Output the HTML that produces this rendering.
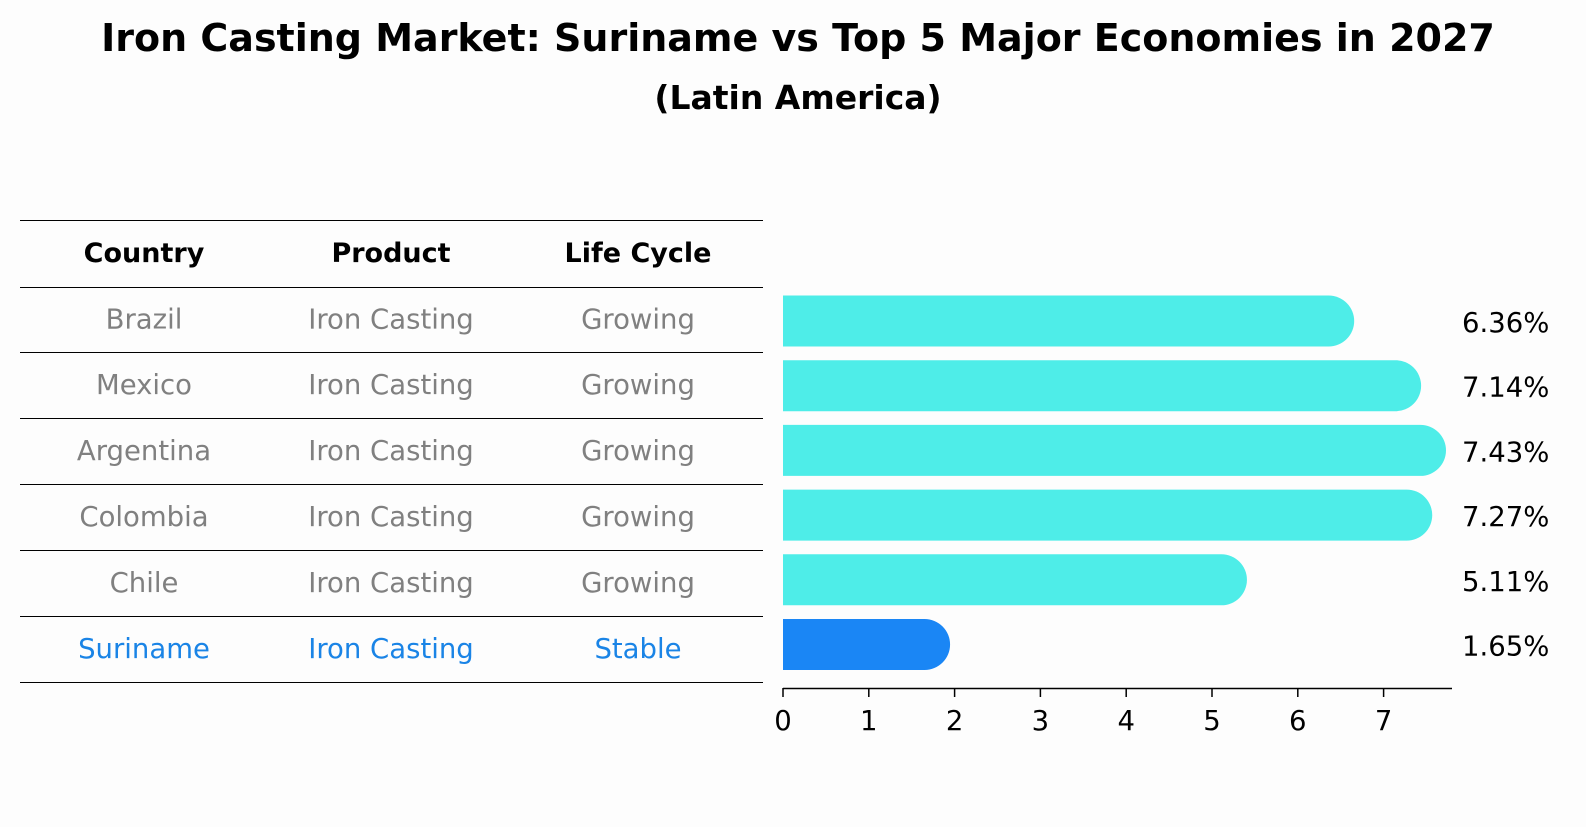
<!DOCTYPE html>
<html><head><meta charset="utf-8"><style>
body{margin:0;background:#fdfdfd;font-family:"DejaVu Sans","Liberation Sans",sans-serif;}
svg text{font-family:"DejaVu Sans","Liberation Sans",sans-serif;}
</style></head><body>
<svg width="1586" height="823" xmlns="http://www.w3.org/2000/svg">
<rect width="1586" height="823" fill="#fdfdfd"/>
<text x="798" y="51" text-anchor="middle" font-size="38" font-weight="bold">Iron Casting Market: Suriname vs Top 5 Major Economies in 2027</text>
<text x="798" y="109" text-anchor="middle" font-size="33" font-weight="bold">(Latin America)</text>
<g id="table"></g>
<g id="bars"></g>
</svg>
<script>
const countries=["Brazil","Mexico","Argentina","Colombia","Chile","Suriname"];
const products=["Iron Casting","Iron Casting","Iron Casting","Iron Casting","Iron Casting","Iron Casting"];
const lifeCycles=["Growing","Growing","Growing","Growing","Growing","Stable"];
const values=[6.36,7.14,7.43,7.27,5.11,1.65];
const ticks=[0,1,2,3,4,5,6,7];
const NS="http://www.w3.org/2000/svg";
function mk(t,a,p){const e=document.createElementNS(NS,t);for(const k in a)e.setAttribute(k,a[k]);p.appendChild(e);return e;}
const tb=document.getElementById('table'),bg=document.getElementById('bars');
const lineYs=[220,287,352,418,484,550,616,682];
const colX=[144,391,638];
lineYs.forEach(y=>{const l=mk('line',{x1:20,x2:763,y1:y+0.5,y2:y+0.5,stroke:'#000','stroke-width':1},tb);

});
["Country","Product","Life Cycle"].forEach((h,i)=>{const t=mk('text',{x:colX[i],y:262,'text-anchor':'middle','font-size':27,'font-weight':'bold'},tb);t.textContent=h;

});
const xs=v=>783+v*85.8;
const rowY=i=>321+i*64.7;
countries.forEach((c,i)=>{
 const col=i===5?'#1a84e6':'#808080';
 [c,products[i],lifeCycles[i]].forEach((s,j)=>{const t=mk('text',{x:colX[j],y:(lineYs[i+1]+lineYs[i+2])/2+9,'text-anchor':'middle','font-size':27.5,fill:col},tb);t.textContent=s;
 
 });
 const cy=rowY(i),h=51,r=25.5,x0=xs(0),x1=xs(values[i]);
 const p=mk('path',{d:`M${x0},${cy-h/2}H${x1}A${r},${r} 0 0 1 ${x1},${cy+h/2}H${x0}Z`,fill:i===5?'#1a86f5':'#4eede8'},bg);
 
 
 const t=mk('text',{x:1462,y:cy+11,'font-size':27.5},bg);t.textContent=values[i].toFixed(2)+'%';
 
 
});
const ax=mk('line',{x1:783,x2:1452,y1:688.5,y2:688.5,stroke:'#000','stroke-width':1.5},bg);


ticks.forEach(v=>{const l=mk('line',{x1:xs(v),x2:xs(v),y1:688,y2:697,stroke:'#000','stroke-width':1.5},bg);


const t=mk('text',{x:xs(v),y:730,'text-anchor':'middle','font-size':27.5},bg);t.textContent=v;

});
</script>
</body></html>
